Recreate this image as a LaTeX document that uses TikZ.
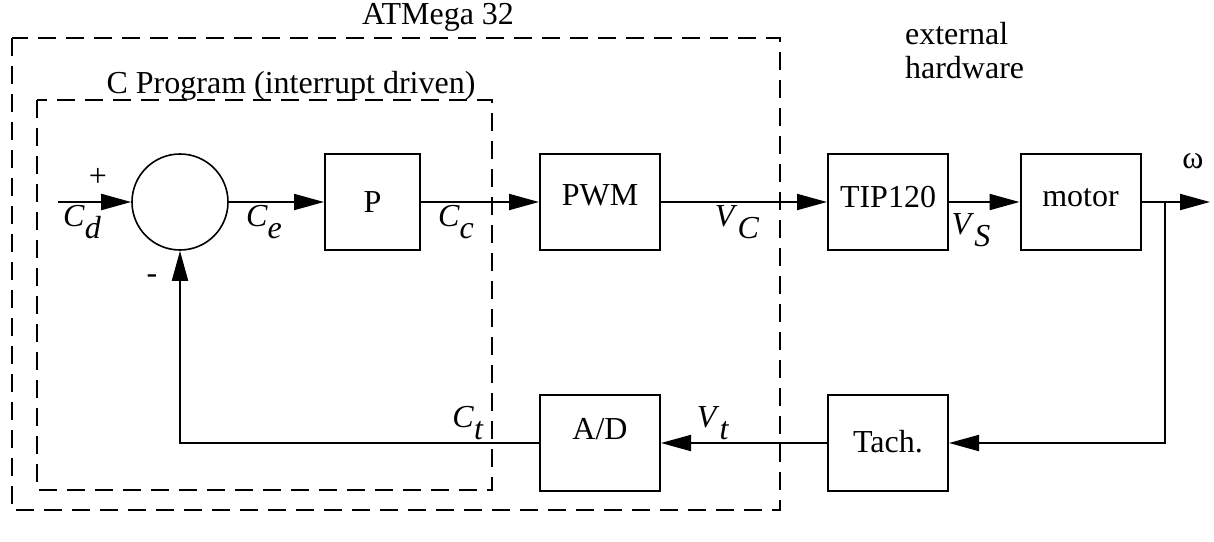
\documentclass[tikz,border=0pt]{standalone}
\usepackage{fontspec}
\setmainfont{Liberation Serif}
\usepackage{tikz}
\usetikzlibrary{arrows.meta,positioning,calc}

\newcommand{\sig}[2]{\textit{#1}\raisebox{-0.8ex}{\textit{#2}}}

\begin{document}
\begin{tikzpicture}[x=0.5pt,y=-0.5pt,
    font=\fontsize{16}{17}\selectfont,
    block/.style={draw,line width=1pt,minimum width=60pt,minimum height=48pt,inner sep=0pt,text depth=5pt},
    sumnode/.style={draw,circle,line width=0.8pt,minimum size=48pt,inner sep=0pt},
    sigline/.style={line width=1pt,-{Triangle[length=15pt,width=8pt]}},
    dashbox/.style={line width=1pt,dash pattern=on 9pt off 5pt}]
  \useasboundingbox (0,0) rectangle (1214,541);
  \draw[dashbox] (12,38) rectangle (780,510); % マイコン全体
  \draw[dashbox] (37,100) rectangle (492,490); % Cプログラム部分
  \node (atmega) at (438,17) {ATMega 32};
  \node (cprog) at (291,86) {C Program (interrupt driven)};
  \node[align=left,anchor=west] (exthw) at (898,51) {external\\hardware};

  \node[sumnode] (sum) at (180,202) {}; % 加え合わせ点
  \node[block,minimum width=47.5pt,text depth=0pt] (p) at (372.5,202) {P};
  \node[block,text depth=7pt] (pwm) at (600,202) {PWM};
  \node[block] (tip) at (888,202) {TIP120};
  \node[block] (motor) at (1080.5,202) {motor};
  \node[block,text depth=2pt] (tach) at (888,443) {Tach.};
  \node[block,text depth=14pt] (adc) at (600,443) {A/D};

  \coordinate (in) at (58,202);
  \coordinate (out) at (1210,202);
  \coordinate (branch) at (1165,202);
  \coordinate (tachin) at (1165,443);
  \coordinate (fbcorner) at (180,443);

  \draw[sigline] (in) -- (sum); % 目標値
  \draw[sigline] (sum) -- (p);
  \draw[sigline] (p) -- (pwm);
  \draw[sigline] (pwm) -- (tip);
  \draw[sigline] (tip) -- (motor);
  \draw[sigline] (motor) -- (out); % 出力
  \draw[sigline] (branch) -- (tachin) -- (tach); % 回転数の検出
  \draw[sigline] (tach) -- (adc);
  \draw[sigline] (adc) -- (fbcorner) -- (sum); % フィードバック

  \node (plus) at (98,177) {+};
  \node (minus) at (152,279) {-};
  \node (cd) at (82,222) {\sig{C}{d}};
  \node (ce) at (264,222) {\sig{C}{e}};
  \node (cc) at (456,222) {\sig{C}{c}};
  \node (vc) at (737,222) {\sig{V}{C}};
  \node (vs) at (971,230) {\sig{V}{S}};
  \node (omega) at (1193,161) {ω};
  \node (ct) at (468,423) {\sig{C}{t}};
  \node (vt) at (713,423) {\sig{V}{t}};
\end{tikzpicture}
\end{document}
